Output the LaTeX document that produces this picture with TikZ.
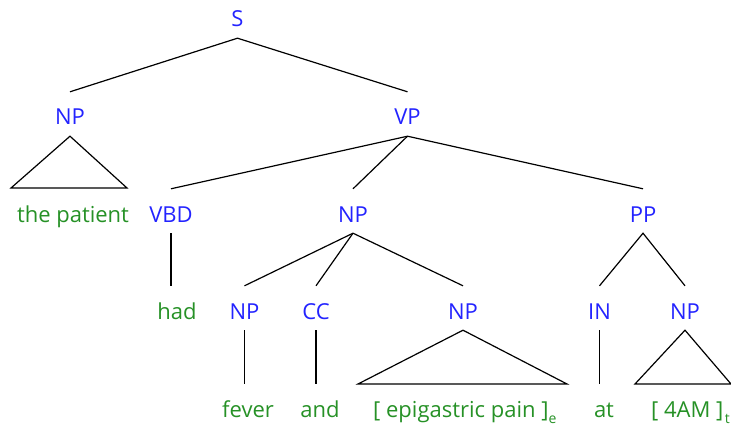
\documentclass[tikz,border=0pt]{standalone}
\usepackage{fontspec}
\setmainfont{Open Sans}
\definecolor{catblue}{RGB}{35,35,255}
\definecolor{wordgreen}{RGB}{38,145,38}
% lowered index after a bracketed span
\newcommand{\spanidx}[1]{\raisebox{-6pt}{\fontsize{14}{14}\selectfont #1}}
\begin{document}
\begin{tikzpicture}[x=1pt,y=-1pt,
  lab/.style={anchor=base,inner sep=0pt,text height=33pt,text depth=11pt,font=\fontsize{22}{22}\selectfont},
  cat/.style={lab,text=catblue},
  word/.style={lab,text=wordgreen},
  edge/.style={draw=black,line width=1.2pt}]
\useasboundingbox (0,0) rectangle (731,425);

% category labels
\node[cat] (s)   at (237.5,27)  {S};
\node[cat] (np1) at (70,125)  {NP};
\node[cat] (vp)  at (407.5,125) {VP};
\node[cat] (vbd) at (171,222) {VBD};
\node[cat] (np2) at (353,222) {NP};
\node[cat] (pp)  at (643,222) {PP};
\node[cat] (np3) at (244.5,319) {NP};
\node[cat] (cc)  at (316,319) {CC};
\node[cat] (np4) at (463,319) {NP};
\node[cat] (in)  at (599.5,319) {IN};
\node[cat] (np5) at (685,319) {NP};

% words
\node[word] (w1) at (73,222)  {the patient};
\node[word] (w2) at (177,319) {had};
\node[word] (w3) at (248,417) {fever};
\node[word] (w4) at (320,417) {and};
\node[word,anchor=base west] (w5) at (373,417) {[ epigastric pain ]\spanidx{e}};
\node[word] (w6) at (604,417) {at};
\node[word,anchor=base west] (w7) at (651,417) {[ 4AM ]\kern1.5pt\spanidx{t}};

% corners of the collapsed constituents
\coordinate (t1l) at (11,188);  \coordinate (t1r) at (127,188);
\coordinate (t4l) at (358,384); \coordinate (t4r) at (567,384);
\coordinate (t5l) at (635,384); \coordinate (t5r) at (731,384);

% branches
\draw[edge] (np1.north) -- (s.south) -- (vp.north);
\draw[edge] (vbd.north) -- (vp.south) -- (pp.north);
\draw[edge] (vp.south) -- (np2.north);
\draw[edge] (np3.north) -- (np2.south) -- (np4.north);
\draw[edge] (np2.south) -- (cc.north);
\draw[edge] (in.north) -- (pp.south) -- (np5.north);
\draw[edge] (vbd.south) -- (vbd.south |- w2.north);
\draw[edge] (np3.south) -- (np3.south |- w3.north);
\draw[edge] (cc.south) -- (cc.south |- w4.north);
\draw[edge] (in.south) -- (in.south |- w6.north);

% triangles
\draw[edge,line join=miter] (np1.south) -- (t1l) -- (t1r) -- cycle;
\draw[edge,line join=miter] (np4.south) -- (t4l) -- (t4r) -- cycle;
\draw[edge,line join=miter] (np5.south) -- (t5l) -- (t5r) -- cycle;
\end{tikzpicture}
\end{document}
